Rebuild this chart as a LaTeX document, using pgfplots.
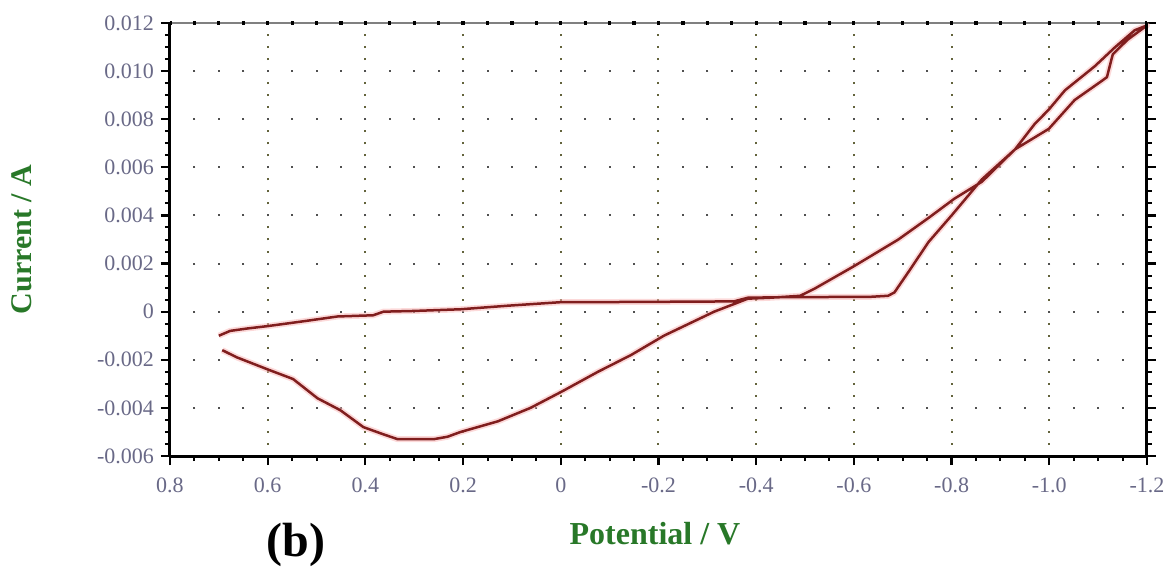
\documentclass[border=0pt]{standalone}
\usepackage{pgfplots}
\pgfplotsset{compat=1.18}
\usepackage{pgfplotstable}
\usepackage{fontspec}
\setmainfont{Liberation Serif}

\definecolor{cvred}{RGB}{128,30,30}
\definecolor{cvhalo}{RGB}{250,180,180}
\definecolor{labgreen}{RGB}{40,120,40}
\definecolor{tickgray}{RGB}{105,105,135}
\definecolor{vgrid}{RGB}{100,100,60}
\definecolor{hgrid}{RGB}{80,80,80}

% cyclic voltammogram: potential (V), current (A)
\pgfplotstableread{
E I
0.700 -0.00100
0.677 -0.00080
0.642 -0.00070
0.600 -0.00060
0.527 -0.00040
0.457 -0.00020
0.384 -0.00015
0.363 0.00000
0.300 0.00003
0.205 0.00010
0.107 0.00025
-0.004 0.00040
-0.100 0.00040
-0.200 0.00041
-0.300 0.00042
-0.355 0.00043
-0.383 0.00058
-0.450 0.00060
-0.550 0.00061
-0.636 0.00062
-0.670 0.00066
-0.683 0.00080
-0.712 0.00166
-0.753 0.00290
-0.800 0.00400
-0.862 0.00550
-0.930 0.00675
-0.999 0.00760
-1.052 0.00880
-1.108 0.00960
-1.118 0.00975
-1.130 0.01070
-1.160 0.01130
-1.200 0.01190
-1.175 0.01170
-1.135 0.01100
-1.093 0.01020
-1.032 0.00920
-0.999 0.00840
-0.970 0.00780
-0.930 0.00675
-0.862 0.00540
-0.806 0.00470
-0.753 0.00390
-0.691 0.00300
-0.601 0.00190
-0.519 0.00095
-0.490 0.00066
-0.430 0.00058
-0.383 0.00054
-0.314 0.00000
-0.211 -0.00100
-0.144 -0.00180
-0.076 -0.00250
-0.004 -0.00330
0.062 -0.00400
0.129 -0.00456
0.205 -0.00500
0.232 -0.00520
0.260 -0.00530
0.334 -0.00530
0.363 -0.00510
0.404 -0.00480
0.451 -0.00410
0.498 -0.00360
0.548 -0.00280
0.600 -0.00240
0.663 -0.00190
0.693 -0.00160
}\cvdata

\begin{document}
\begin{tikzpicture}
\useasboundingbox (0,0) rectangle (584pt,284.5pt);
\begin{axis}[
  at={(85pt,56.5pt)}, anchor=south west,
  scale only axis,
  width=488.5pt, height=216.5pt,
  x dir=reverse,
  xmin=-1.2, xmax=0.8,
  ymin=-0.006, ymax=0.012,
  xtick={-1.2,-1.0,-0.8,-0.6,-0.4,-0.2,0,0.2,0.4,0.6,0.8},
  xticklabels={-1.2,-1.0,-0.8,-0.6,-0.4,-0.2,0,0.2,0.4,0.6,0.8},
  ytick={-0.006,-0.004,-0.002,0,0.002,0.004,0.006,0.008,0.010,0.012},
  yticklabels={-0.006,-0.004,-0.002,0,0.002,0.004,0.006,0.008,0.010,0.012},
  scaled y ticks=false,
  minor x tick num=3,
  minor y tick num=3,
  xtick pos=bottom,
  ytick pos=both,
  tick align=outside,
  major tick length=4.5pt,
  minor tick length=2.5pt,
  major tick style={line width=1.1pt, black},
  minor tick style={line width=1pt, black},
  /pgf/number format/assume math mode=true,
  ticklabel style={font=\fontsize{11}{12}\selectfont, text=tickgray},
  xticklabel style={yshift=-3pt},
  xmajorgrids, ymajorgrids,
  every axis x grid/.append style={vgrid, line width=1pt, dash pattern=on 1pt off 5.014pt, dash phase=0.5pt},
  every axis y grid/.append style={hgrid, line width=1pt, dash pattern=on 1pt off 11.2125pt, dash phase=0.5pt},
  axis line style={draw=none},
  clip=false,
]
\addplot[cvhalo, line width=3pt, opacity=0.5, line join=round] table[x=E, y=I] {\cvdata};
\addplot[cvred, line width=1.25pt, line join=round] table[x=E, y=I] {\cvdata};

% frame: thick black left, right and bottom, thin grey top with dots
\draw[black, line width=1.5pt] (rel axis cs:0,0) -- (rel axis cs:1,0);
\draw[black, line width=1.5pt] (rel axis cs:0,0) -- (rel axis cs:0,1);
\draw[black, line width=1.5pt] (rel axis cs:1,0) -- (rel axis cs:1,1);
\draw[gray, line width=1pt] (rel axis cs:0,1) -- (rel axis cs:1,1);
\draw[black, line width=1.6pt, dash pattern=on 1.6pt off 10.6125pt, dash phase=0.8pt] (rel axis cs:0,1) -- (rel axis cs:1,1);

\node[font=\bfseries\fontsize{16}{18}\selectfont, text=labgreen, anchor=center]
  at (axis description cs:0.4964,-0.18) {Potential / V};
\node[font=\bfseries\fontsize{15}{17}\selectfont, text=labgreen, anchor=center, rotate=90]
  at (axis description cs:-0.1515,0.5) {Current / A};
\node[font=\bfseries\fontsize{24}{26}\selectfont, anchor=center]
  at (axis description cs:0.129,-0.2055) {(b)};
\end{axis}
\end{tikzpicture}
\end{document}
